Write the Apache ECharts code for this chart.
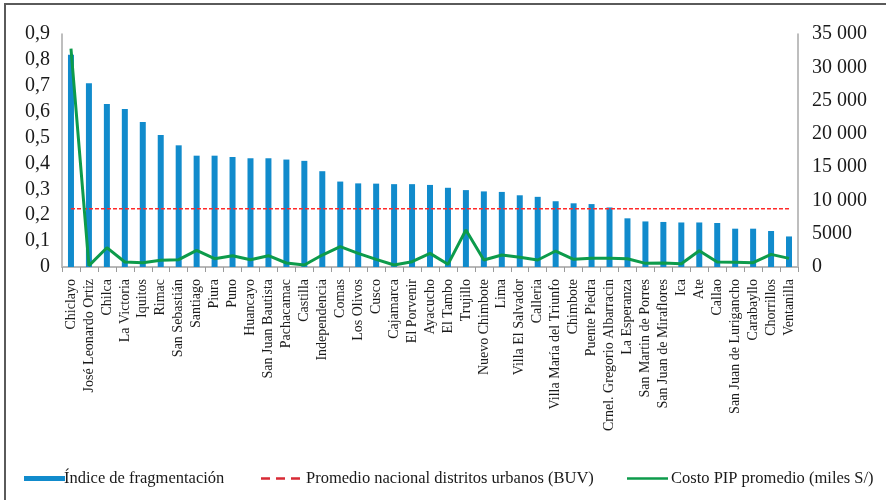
<!DOCTYPE html>
<html>
<head>
<meta charset="utf-8">
<script src="https://cdn.jsdelivr.net/npm/echarts@6/dist/echarts.min.js"></script>
<style>
html,body{margin:0;padding:0;background:#fff;}
#chart{width:886px;height:500px;}
</style>
</head>
<body>
<div id="chart"></div>
<script>
const categories = ["Chiclayo","José Leonardo Ortiz","Chilca","La Victoria","Iquitos","Rimac","San Sebastián","Santiago","Piura","Puno","Huancayo","San Juan Bautista","Pachacamac","Castilla","Independencia","Comas","Los Olivos","Cusco","Cajamarca","El Porvenir","Ayacucho","El Tambo","Trujillo","Nuevo Chimbote","Lima","Villa El Salvador","Calleria","Villa María del Triunfo","Chimbote","Puente Piedra","Crnel. Gregorio Albarracin","La Esperanza","San Martin de Porres","San Juan de Miraflores","Ica","Ate","Callao","San Juan de Lurigancho","Carabayllo","Chorrillos","Ventanilla"];
const fragmentacion = [0.82,0.71,0.63,0.61,0.56,0.51,0.47,0.43,0.43,0.425,0.42,0.42,0.415,0.41,0.37,0.33,0.323,0.322,0.32,0.32,0.317,0.306,0.297,0.292,0.29,0.277,0.271,0.254,0.246,0.243,0.23,0.188,0.176,0.174,0.172,0.172,0.17,0.148,0.148,0.139,0.118];
const costoPIP = [32800,200,2900,750,650,1000,1100,2500,1250,1700,1100,1700,600,300,1800,3050,2050,1150,300,800,2050,400,5550,1050,1800,1450,1050,2400,1150,1300,1300,1250,550,600,500,2450,750,700,650,1900,1300];
const promedioBUV = 0.225;
const leftTicks = [0,0.1,0.2,0.3,0.4,0.5,0.6,0.7,0.8,0.9];
const rightTicks = [0,5000,10000,15000,20000,25000,30000,35000];
const seriesNames = ["Índice de fragmentación","Promedio nacional distritos urbanos (BUV)","Costo PIP promedio (miles S/)"];

const FONT = '"Liberation Serif", "DejaVu Serif", serif';
const chart = echarts.init(document.getElementById('chart'), null, {renderer:'canvas'});

function fmtRight(v){
  if (v < 10000) return String(v);
  const s = String(v);
  return s.slice(0, s.length-3) + ' ' + s.slice(s.length-3);
}

const legendText = {fontFamily:FONT, fontSize:16.5, color:'#1a1a1a'};

chart.setOption({
  animation:false,
  backgroundColor:'#fff',
  textStyle:{fontFamily:FONT},
  graphic:[{
    type:'rect', silent:true, z:-1,
    shape:{x:5, y:4, width:920, height:540},
    style:{fill:'none', stroke:'#5a5a5a', lineWidth:2}
  }],
  grid:{left:62, right:88, top:34, bottom:233, containLabel:false},
  legend:[{
    left:19, top:465, itemWidth:41, itemHeight:5, symbolKeepAspect:false,
    textStyle:Object.assign({padding:[0,0,0,-6]}, legendText),
    data:[{name:seriesNames[0], icon:'rect'}]
  },{
    left:256, top:465, itemWidth:39, itemHeight:2.5, symbolKeepAspect:false,
    textStyle:Object.assign({padding:[0,0,0,1]}, legendText),
    data:[{name:seriesNames[1], icon:'path://M0,0H9V1H0Z M15,0H24V1H15Z M30,0H39V1H30Z'}]
  },{
    left:622, top:465, itemWidth:41, itemHeight:2.5, symbolKeepAspect:false,
    textStyle:Object.assign({padding:[0,0,0,-2]}, legendText),
    data:[{name:seriesNames[2], icon:'rect'}]
  }],
  xAxis:{
    type:'category',
    data:categories,
    boundaryGap:true,
    axisLine:{lineStyle:{color:'#b8b8b8', width:2}},
    axisTick:{show:true, interval:0, length:5, lineStyle:{color:'#9a9a9a', width:1}},
    axisLabel:{interval:0, rotate:90, margin:12, fontFamily:FONT, fontSize:14, color:'#1a1a1a'},
    splitLine:{show:false}
  },
  yAxis:[{
    type:'value', min:0, max:0.9, interval:0.1,
    axisLine:{show:true, lineStyle:{color:'#a8a8a8', width:1.5}},
    axisTick:{show:false},
    splitLine:{show:false},
    axisLabel:{margin:12, fontFamily:FONT, fontSize:20, color:'#1a1a1a',
      formatter:function(v){ const t = leftTicks.find(x=>Math.abs(x-v)<1e-9); return (t===0?'0':(t!==undefined?t:v).toFixed(1).replace('.',',')); }}
  },{
    type:'value', min:0, max:35000, interval:5000, position:'right',
    axisLine:{show:true, lineStyle:{color:'#a8a8a8', width:1.5}},
    axisTick:{show:false},
    splitLine:{show:false},
    axisLabel:{margin:14, fontFamily:FONT, fontSize:20, color:'#1a1a1a',
      formatter:function(v){ const t = rightTicks.find(x=>x===v); return fmtRight(t!==undefined?t:v); }}
  }],
  series:[{
    name:seriesNames[0], type:'bar', yAxisIndex:0,
    data:fragmentacion, barWidth:6,
    itemStyle:{color:'#118bcc'}
  },{
    name:seriesNames[1], type:'line', yAxisIndex:0,
    data:categories.map(()=>promedioBUV),
    symbol:'none', z:3,
    lineStyle:{color:'#ff2a2a', width:1.5, type:[4,2]},
    itemStyle:{color:'#d82a35'}
  },{
    name:seriesNames[2], type:'line', yAxisIndex:1,
    data:costoPIP, symbol:'none', z:4,
    lineStyle:{color:'#0d9b4b', width:3},
    itemStyle:{color:'#0d9b4b'}
  }]
});
</script>
</body>
</html>
